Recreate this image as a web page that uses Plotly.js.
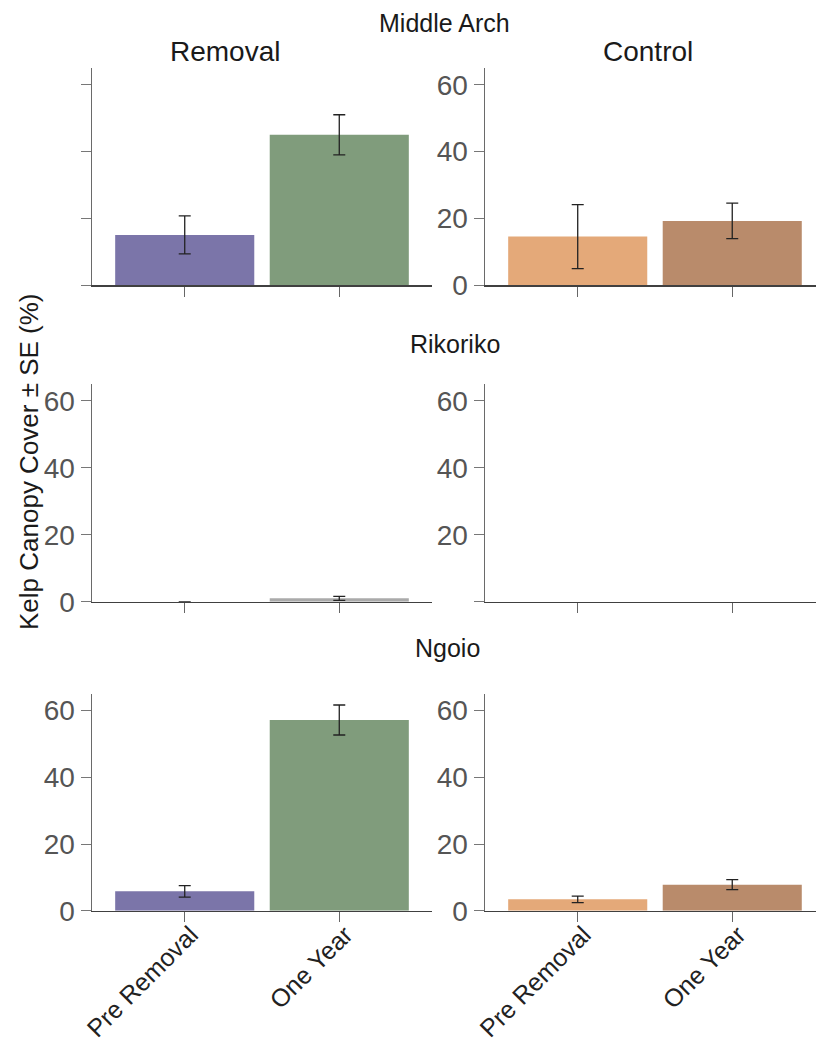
<!DOCTYPE html>
<html>
<head>
<meta charset="utf-8">
<script src="https://cdn.plot.ly/plotly-3.0.1.min.js"></script>
<style>html,body{margin:0;padding:0;background:#fff;}#chart{width:816px;height:1045px;}</style>
</head>
<body>
<div id="chart"></div>
<script>
// ---- data ----
const categories = ['Pre Removal', 'One Year'];
const sites = ['Middle Arch', 'Rikoriko', 'Ngoio'];
const treatments = ['Removal', 'Control'];

const middleArchRemoval = [15, 45];
const middleArchRemovalSE = [5.7, 6.0];
const middleArchControl = [14.5, 19.2];
const middleArchControlSE = [9.6, 5.3];

const rikorikoRemoval = [0, 1.0];
const rikorikoRemovalSE = [0, 0.6];
const rikorikoControl = [0, 0];
const rikorikoControlSE = [0, 0];

const ngoioRemoval = [5.8, 57.2];
const ngoioRemovalSE = [1.7, 4.5];
const ngoioControl = [3.4, 7.8];
const ngoioControlSE = [1.0, 1.5];

const yTickVals = [0, 20, 40, 60];
const yTickText = ['0', '20', '40', '60'];

// ---- styling ----
const removalColors = ['#7b75a9', '#809c7c'];
const rikorikoColors = ['#aaaaaa', '#aaaaaa'];
const controlColors = ['#e4a979', '#b98b6b'];
const FONT = 'Liberation Sans, Arial, Helvetica, sans-serif';
const W = 816, H = 1045;

const colDom = [[92 / W, 432 / W], [485 / W, 1]];
const colRange = [[-0.6, 1.6], [-0.6, 1.542]];
const rowDom = [
  [1 - 285 / H, 1 - 68 / H],
  [1 - 601.7 / H, 1 - 384 / H],
  [1 - 910.7 / H, 1 - 694 / H]
];

const panels = [
  {y: middleArchRemoval, se: middleArchRemovalSE, colors: removalColors, row: 0, col: 0, labels: false},
  {y: middleArchControl, se: middleArchControlSE, colors: controlColors, row: 0, col: 1, labels: yTickText},
  {y: rikorikoRemoval, se: rikorikoRemovalSE, colors: rikorikoColors, row: 1, col: 0, labels: yTickText},
  {y: rikorikoControl, se: rikorikoControlSE, colors: controlColors, row: 1, col: 1, labels: ['', '20', '40', '60']},
  {y: ngoioRemoval, se: ngoioRemovalSE, colors: removalColors, row: 2, col: 0, labels: yTickText},
  {y: ngoioControl, se: ngoioControlSE, colors: controlColors, row: 2, col: 1, labels: yTickText}
];

const traces = [];
const layout = {
  width: W, height: H,
  margin: {l: 0, r: 0, t: 0, b: 0},
  paper_bgcolor: '#fff', plot_bgcolor: '#fff',
  showlegend: false,
  font: {family: FONT},
  annotations: []
};

panels.forEach((p, i) => {
  const n = i + 1;
  const xa = n === 1 ? 'x' : 'x' + n;
  const ya = n === 1 ? 'y' : 'y' + n;
  traces.push({
    type: 'bar', x: categories, y: p.y, xaxis: xa, yaxis: ya,
    width: 0.9,
    marker: {color: p.colors, line: {width: 0}},
    error_y: {type: 'data', array: p.se, visible: p.se.some(v => v > 0), color: '#222', thickness: 1.3, width: 6},
    hoverinfo: 'skip'
  });
  const xk = n === 1 ? 'xaxis' : 'xaxis' + n;
  const yk = n === 1 ? 'yaxis' : 'yaxis' + n;
  layout[xk] = {
    domain: colDom[p.col], anchor: ya, range: colRange[p.col],
    type: 'category',
    showline: true, linecolor: '#404040', linewidth: 1.5,
    ticks: 'outside', ticklen: 10, tickwidth: 1, tickcolor: '#666',
    showgrid: false, zeroline: false,
    showticklabels: p.row === 2, tickangle: -45,
    ticklabelstandoff: -12, ticklabelshift: 6,
    tickfont: {family: FONT, size: 25, color: '#222'},
    fixedrange: true
  };
  layout[yk] = {
    domain: rowDom[p.row], anchor: xa, range: [0, 65],
    showline: true, linecolor: '#6a6a6a', linewidth: 1.5,
    ticks: 'outside', ticklen: 10, tickwidth: 1, tickcolor: '#777',
    showgrid: false, zeroline: false,
    tickmode: 'array', tickvals: yTickVals,
    ticktext: p.labels ? p.labels : ['', '', '', ''],
    showticklabels: !!p.labels,
    tickfont: {family: FONT, size: 28, color: '#555'},
    fixedrange: true
  };
});

const ann = (text, px, py, size, extra) => Object.assign({
  text: text, xref: 'paper', yref: 'paper', x: px / W, y: 1 - py / H,
  xanchor: 'center', yanchor: 'middle', showarrow: false,
  font: {family: FONT, size: size, color: '#1a1a1a'}
}, extra || {});

layout.annotations.push(ann(sites[0], 445, 23, 25));
layout.annotations.push(ann(treatments[0], 225, 52, 28));
layout.annotations.push(ann(treatments[1], 648, 52, 28));
layout.annotations.push(ann(sites[1], 455, 344, 25));
layout.annotations.push(ann(sites[2], 447, 648, 25));
layout.annotations.push(ann('Kelp Canopy Cover ± SE (%)', 29, 462, 26, {textangle: -90}));

Plotly.newPlot('chart', traces, layout, {staticPlot: true, displayModeBar: false});
</script>
</body>
</html>
